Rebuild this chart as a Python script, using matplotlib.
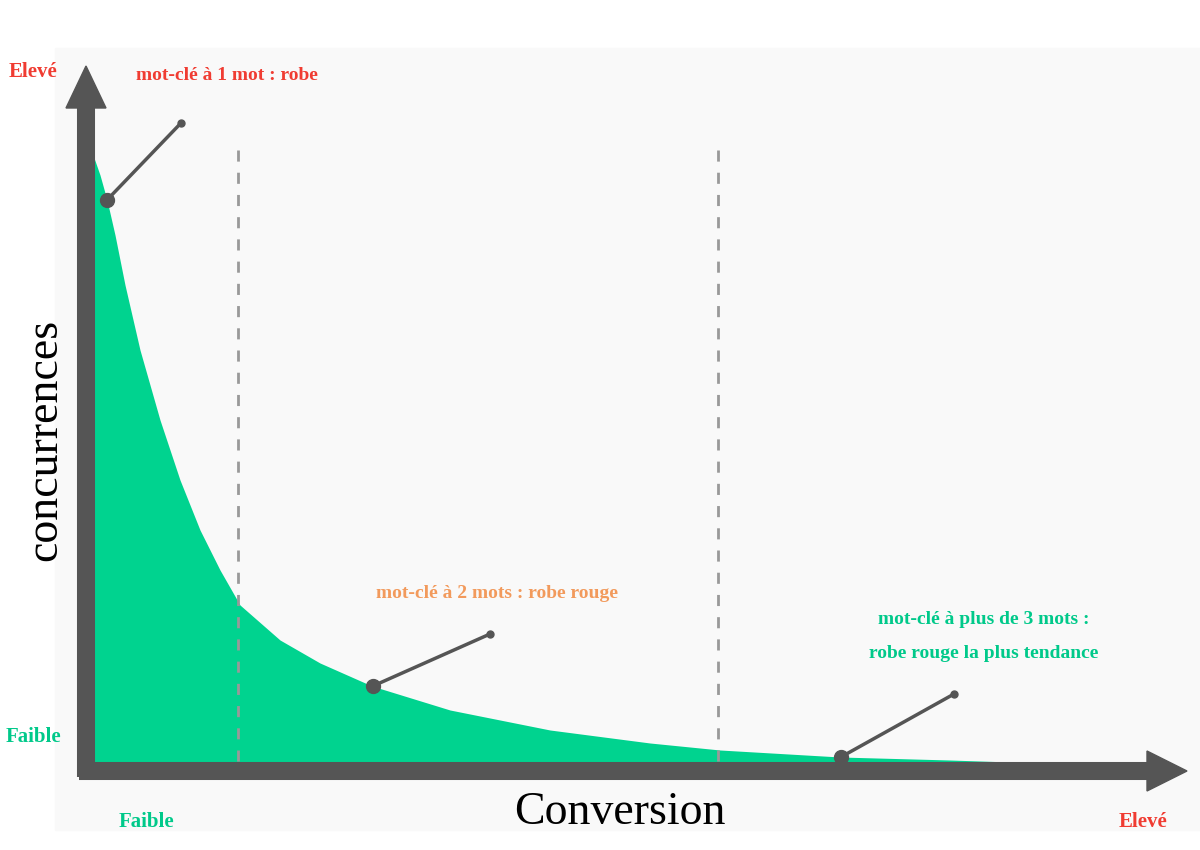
import matplotlib
matplotlib.use("Agg")
import matplotlib.pyplot as plt

# curve (pixel-like coordinates of the chart plane)
curve_x = [93, 100, 107, 115, 125, 140, 160, 180, 200, 220, 240, 280, 320, 372, 450, 550, 650, 720, 840, 950, 1100]
curve_y = [155, 175, 200, 235, 285, 350, 420, 480, 530, 570, 605, 640, 663, 686, 710, 730, 743, 750, 757, 760, 765]
dashed_x = [238, 718]
points = [(107, 200, 181, 123), (373, 686, 490, 634), (841, 757, 954, 694)]

fig = plt.figure(figsize=(12, 8.5), dpi=100)
ax = fig.add_axes([0, 0, 1, 1])
ax.set_xlim(0, 1200); ax.set_ylim(850, 0); ax.axis("off")
ax.add_patch(plt.Rectangle((55, 48), 1145, 782, color="#f9f9f9", zorder=0))

base = 765
ax.fill_between(curve_x, curve_y, base, color="#00d38f", lw=0, zorder=1)
for x in dashed_x:
    ax.plot([x, x], [150, 765], ls=(0, (4, 4)), color="#999999", lw=2, zorder=2)

gray = "#555555"
ax.plot([86, 86], [777, 105], color=gray, lw=13, solid_capstyle="butt", zorder=3)
ax.add_patch(plt.Polygon([[66, 108], [106, 108], [86, 66]], color=gray, zorder=3))
ax.plot([79, 1150], [771, 771], color=gray, lw=13, solid_capstyle="butt", zorder=3)
ax.add_patch(plt.Polygon([[1147, 751], [1147, 791], [1187, 771]], color=gray, zorder=3))

for x0, y0, x1, y1 in points:
    ax.plot([x0, x1], [y0, y1], color=gray, lw=2.5, zorder=4)
    ax.plot(x0, y0, "o", color=gray, ms=10, zorder=5)
    ax.plot(x1, y1, "o", color=gray, ms=5, zorder=5)

serif = ["Liberation Serif", "DejaVu Serif"]
red = "#f03c32"; green = "#00c98a"; orange = "#f29a5c"
ax.text(33, 72, "Elevé", color=red, fontsize=15, fontweight="bold", family=serif, ha="center", va="center")
ax.text(33, 737, "Faible", color=green, fontsize=15, fontweight="bold", family=serif, ha="center", va="center")
ax.text(146, 822, "Faible", color=green, fontsize=15, fontweight="bold", family=serif, ha="center", va="center")
ax.text(1143, 822, "Elevé", color=red, fontsize=15, fontweight="bold", family=serif, ha="center", va="center")
ax.text(620, 813, "Conversion", color="black", fontsize=33, family=serif, ha="center", va="center")
ax.text(45, 440, "concurrences", color="black", fontsize=33, family=serif, ha="center", va="center", rotation=90)
ax.text(227, 75, "mot-clé à 1 mot : robe", color=red, fontsize=14, fontweight="bold", family=serif, ha="center", va="center")
ax.text(497, 594, "mot-clé à 2 mots : robe rouge", color=orange, fontsize=14, fontweight="bold", family=serif, ha="center", va="center")
ax.text(984, 620, "mot-clé à plus de 3 mots :", color=green, fontsize=14, fontweight="bold", family=serif, ha="center", va="center")
ax.text(984, 654, "robe rouge la plus tendance", color=green, fontsize=14, fontweight="bold", family=serif, ha="center", va="center")

fig.savefig("out.png", dpi=100, facecolor="white")
